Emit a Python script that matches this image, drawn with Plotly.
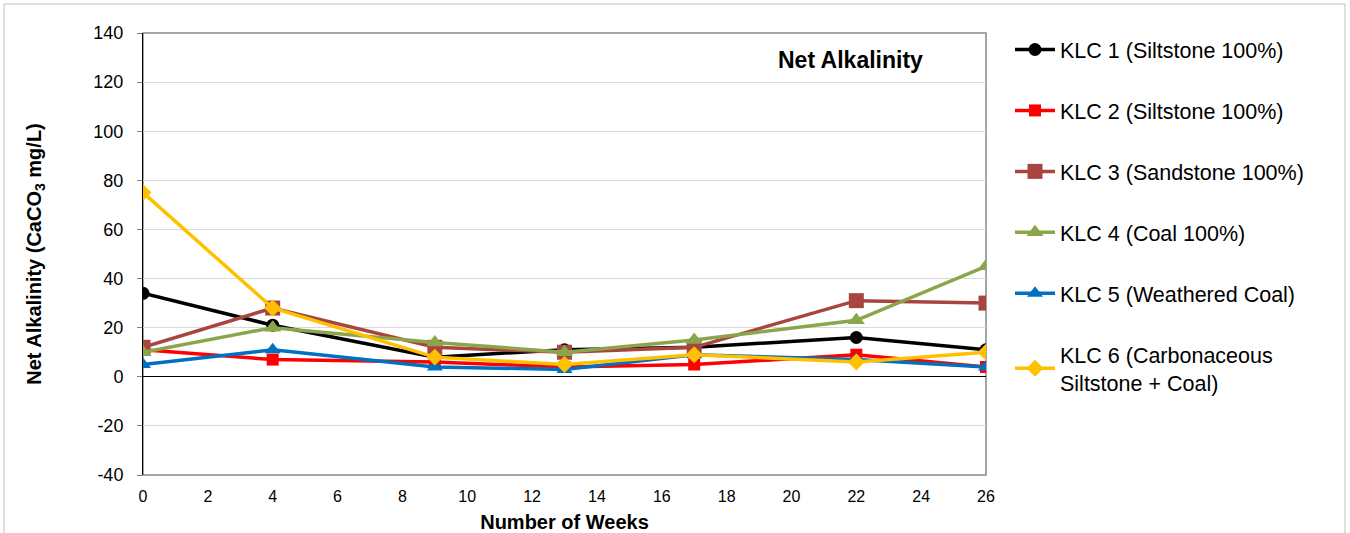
import plotly.graph_objects as go

weeks = [0, 4, 9, 13, 17, 22, 26]
klc1 = [34, 21, 8, 11, 12, 16, 11]
klc2 = [11, 7, 6, 4, 5, 9, 4]
klc3 = [12, 28, 12, 10, 12, 31, 30]
klc4 = [10, 20, 14, 10, 15, 23, 45]
klc5 = [5, 11, 4, 3, 9, 7, 4]
klc6 = [75, 28, 8, 5, 9, 6, 10]

y_tickvals = [-40, -20, 0, 20, 40, 60, 80, 100, 120, 140]
y_ticktext = ["-40", "-20", "0", "20", "40", "60", "80", "100", "120", "140"]

names = ["KLC 1 (Siltstone 100%)", "KLC 2 (Siltstone 100%)", "KLC 3 (Sandstone 100%)",
         "KLC 4 (Coal 100%)", "KLC 5 (Weathered Coal)", "KLC 6 (Carbonaceous<br>Siltstone + Coal)"]
series = [klc1, klc2, klc3, klc4, klc5, klc6]
colors = ["#000000", "#FF0000", "#A8453F", "#8BA64A", "#0070C0", "#FFC000"]
symbols = ["circle", "square", "square", "triangle-up", "triangle-up", "diamond"]
msizes = [13, 12, 15, 15, 14, 13]

FONT = "Liberation Sans, Arial, sans-serif"

fig = go.Figure()
for i, (n, s) in enumerate(zip(names, series)):
    fig.add_trace(go.Scatter(
        x=weeks, y=s, name=n, mode="lines+markers",
        line=dict(color=colors[i], width=3.5),
        marker=dict(symbol=symbols[i], size=msizes[i], color=colors[i]),
        legendgroup=f"g{i}",
    ))

W, H = 1350, 533
L, R, T, B = 143, 364, 33, 58
pw = W - L - R
ph = H - T - B

def px(x):
    return (x - L) / pw

def py(y):
    return (H - B - y) / ph

fig.update_layout(
    width=W, height=H,
    margin=dict(l=L, r=R, t=T, b=B, autoexpand=False),
    plot_bgcolor="white", paper_bgcolor="white",
    font=dict(family=FONT, size=17, color="#000000"),
    showlegend=True,
    legend=dict(x=px(1010), y=py(29), xanchor="left", yanchor="top",
                font=dict(size=21.5, family=FONT), tracegroupgap=30,
                itemwidth=40, bgcolor="rgba(0,0,0,0)", maxheight=520),
    xaxis=dict(range=[0, 26], tickmode="linear", tick0=0, dtick=2,
               showgrid=False, zeroline=False, showline=False, automargin=False,
               ticks="", tickfont=dict(size=16), ticklabelstandoff=10,
               title=dict(text="<b>Number of Weeks</b>", font=dict(size=20), standoff=12)),
    yaxis=dict(range=[-40, 140], tickmode="array", tickvals=y_tickvals, ticktext=y_ticktext,
               showgrid=True, gridcolor="#D9D9D9", gridwidth=1,
               zeroline=True, zerolinecolor="#000000", zerolinewidth=1,
               showline=True, linecolor="#000000", linewidth=1, automargin=False,
               ticks="outside", ticklen=5, tickcolor="#808080",
               ticklabelstandoff=10,
               tickfont=dict(size=18),
               title=dict(text="<b>Net Alkalinity (CaCO<sub>3</sub> mg/L)</b>",
                          font=dict(size=20), standoff=46)),
    shapes=[
        dict(type="rect", xref="paper", yref="paper", x0=0, x1=1, y0=0, y1=1,
             line=dict(color="#868686", width=1.5), layer="below"),
        dict(type="rect", xref="paper", yref="paper",
             x0=px(4), x1=px(1345), y0=py(560), y1=py(4),
             line=dict(color="#BFBFBF", width=1), layer="below"),
    ],
    annotations=[
        dict(text="<b>Net Alkalinity</b>", xref="paper", yref="paper",
             x=px(850), y=py(60), xanchor="center", yanchor="middle",
             showarrow=False, font=dict(size=23, family=FONT)),
    ],
)

fig.write_html("out.html", config={"displayModeBar": False},
               post_script="document.body.style.margin='0px';")
